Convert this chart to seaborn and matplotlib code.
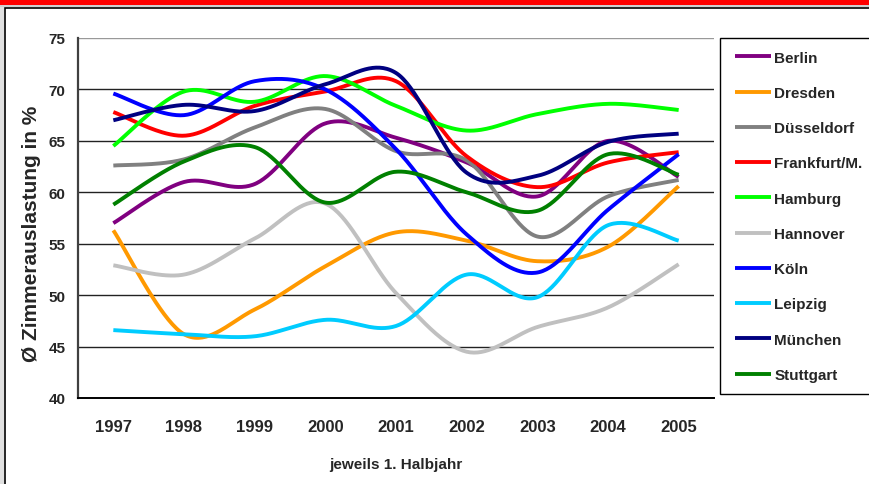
import numpy as np
import matplotlib
matplotlib.use("Agg")
import matplotlib.pyplot as plt
import seaborn as sns
from matplotlib.patches import Rectangle

# Data (Ø Zimmerauslastung in %, jeweils 1. Halbjahr)
years = ["1997", "1998", "1999", "2000", "2001", "2002", "2003", "2004", "2005"]
berlin = [57.0, 61.0, 60.8, 66.7, 65.3, 62.9, 59.6, 65.0, 61.5]
dresden = [56.3, 46.2, 48.6, 52.8, 56.1, 55.3, 53.3, 54.7, 60.6]
duesseldorf = [62.6, 63.2, 66.3, 68.1, 64.0, 63.1, 55.7, 59.6, 61.2]
frankfurt = [67.8, 65.5, 68.4, 69.8, 70.8, 63.5, 60.5, 62.9, 63.9]
hamburg = [64.5, 69.8, 68.8, 71.3, 68.4, 66.0, 67.6, 68.6, 68.0]
hannover = [52.9, 52.0, 55.5, 58.9, 50.2, 44.5, 46.9, 48.8, 53.0]
koeln = [69.6, 67.5, 70.8, 70.0, 64.2, 55.9, 52.2, 58.3, 63.7]
leipzig = [46.6, 46.2, 46.0, 47.6, 47.0, 52.0, 49.8, 56.8, 55.3]
muenchen = [67.0, 68.5, 67.9, 70.5, 71.6, 61.9, 61.6, 64.9, 65.7]
stuttgart = [58.8, 63.0, 64.4, 59.0, 62.0, 60.0, 58.2, 63.7, 61.7]

cities = ["Berlin", "Dresden", "Düsseldorf", "Frankfurt/M.", "Hamburg",
          "Hannover", "Köln", "Leipzig", "München", "Stuttgart"]
series = [berlin, dresden, duesseldorf, frankfurt, hamburg,
          hannover, koeln, leipzig, muenchen, stuttgart]
colors = ["#800080", "#FF9900", "#808080", "#FF0000", "#00FF00",
          "#C0C0C0", "#0000FF", "#00CCFF", "#000080", "#008000"]


def smooth(xv, yv, n=40):
    # Excel-style smoothed line (Catmull-Rom via cubic Bezier)
    p = np.column_stack([xv, yv]).astype(float)
    p = np.vstack([p[0], p, p[-1]])
    out = []
    t = np.linspace(0, 1, n)[:, None]
    for i in range(1, len(p) - 2):
        p0, p1, p2, p3 = p[i - 1], p[i], p[i + 1], p[i + 2]
        c1 = p1 + (p2 - p0) / 6
        c2 = p2 - (p3 - p1) / 6
        seg = ((1 - t) ** 3) * p1 + 3 * ((1 - t) ** 2) * t * c1 \
            + 3 * (1 - t) * t ** 2 * c2 + t ** 3 * p2
        out.append(seg if i == 1 else seg[1:])
    out = np.vstack(out)
    return out[:, 0], out[:, 1]


sns.set_style("white")
plt.rcParams["font.family"] = ["Liberation Sans", "DejaVu Sans"]
plt.rcParams["font.weight"] = "bold"

fig = plt.figure(figsize=(8.69, 4.85), dpi=100)
W, H = 869, 485

# frame decorations: red band, grey strip, black border
fig.patches.append(Rectangle((0, 1 - 6 / H), 1, 6 / H, transform=fig.transFigure,
                             facecolor="#FF0000", edgecolor="none", zorder=-5))
fig.patches.append(Rectangle((0, 1 - 8 / H), 1, 2 / H, transform=fig.transFigure,
                             facecolor="#D0D0D0", edgecolor="none", zorder=-5))
fig.patches.append(Rectangle((0, 0), 4 / W, 1 - 8 / H, transform=fig.transFigure,
                             facecolor="#E0E0E0", edgecolor="none", zorder=-5))
fig.patches.append(Rectangle((5 / W, -0.05), 1.2, 1.05 - 9 / H, transform=fig.transFigure,
                             facecolor="white", edgecolor="black", lw=1.2, zorder=-5))
# legend box
fig.patches.append(Rectangle((720 / W, 1 - 395 / H), 0.3, (395 - 39) / H,
                             transform=fig.transFigure, facecolor="white",
                             edgecolor="black", lw=1.0, zorder=-4))

ax = fig.add_axes([78 / W, 1 - 399 / H, (714 - 78) / W, (399 - 39) / H])
ax.set_facecolor("none")

xpos = np.arange(len(years))
for name, vals, col in zip(cities, series, colors):
    sx, sy = smooth(xpos, vals)
    sns.lineplot(x=sx, y=sy, sort=False, estimator=None, color=col, lw=2.8,
                 label=name, ax=ax, solid_capstyle="butt")

ax.set_xlim(-0.5, len(years) - 0.5)
ax.set_ylim(40, 75)
ax.set_yticks(range(40, 80, 5))
ax.set_yticklabels([str(v) for v in range(40, 80, 5)], fontsize=11, fontweight="bold")
ax.set_xticks(xpos)
ax.set_xticklabels(years, fontsize=12, fontweight="bold")
ax.set_xticks(np.arange(-0.5, len(years), 1), minor=True)
ax.tick_params(axis="x", which="major", length=0, pad=15)
ax.tick_params(axis="x", which="minor", length=5, width=1.2, color="black", direction="out")
ax.tick_params(axis="y", which="major", length=5, width=1.2, color="#404040",
               direction="out", pad=4)

for v in range(45, 80, 5):
    ax.axhline(v, color="#999999" if v == 75 else "#222222", lw=1.0, zorder=0.5)

for s in ["top", "right"]:
    ax.spines[s].set_visible(False)
ax.spines["left"].set_color("#404040")
ax.spines["left"].set_linewidth(1.6)
ax.spines["bottom"].set_color("black")
ax.spines["bottom"].set_linewidth(1.4)

ax.set_xlabel("jeweils 1. Halbjahr", fontsize=11, fontweight="bold", labelpad=17)
ax.set_ylabel("Ø Zimmerauslastung in %", fontsize=15, fontweight="bold")
ax.yaxis.set_label_coords(-0.058, 0.46)

handles, labels = ax.get_legend_handles_labels()
ax.legend(handles, labels, loc="upper left", bbox_to_anchor=(721 / W, 1 - 38 / H),
          bbox_transform=fig.transFigure, frameon=False,
          handlelength=2.4, handletextpad=0.2, labelspacing=1.39,
          prop={"weight": "bold", "size": 11})

fig.savefig("out.png", dpi=100)
